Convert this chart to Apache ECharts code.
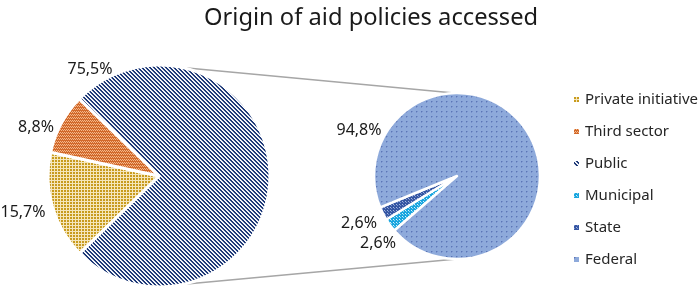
<!DOCTYPE html>
<html>
<head>
<meta charset="utf-8">
<script src="https://cdn.jsdelivr.net/npm/echarts@6/dist/echarts.min.js"></script>
<style>
html,body{margin:0;padding:0;background:#fff;}
#chart{width:699px;height:291px;}
</style>
</head>
<body>
<div id="chart"></div>
<script>
// dados
var leftNames = ['Public', 'Private initiative', 'Third sector'];
var leftValues = [75.5, 15.7, 8.8];
var rightNames = ['Municipal', 'State', 'Federal'];
var rightValues = [2.6, 2.6, 94.8];
var legendOrder = ['Private initiative', 'Third sector', 'Public', 'Municipal', 'State', 'Federal'];

// geometria
var leftC = [159, 176], leftR = 111;
var rightC = [457, 176], rightR = 83;
var leftLabelPos = [[90, 69], [23, 212], [36, 127]];
var rightLabelPos = [[378, 243], [359, 223], [359, 130]];

// padroes (hachuras tipo excel)
function tile(w, h, bg, fg, cells){
	var c = document.createElement('canvas');
	c.width = w; c.height = h;
	var ctx = c.getContext('2d');
	ctx.fillStyle = bg;
	ctx.fillRect(0, 0, w, h);
	for (var i = 0; i < cells.length; i++) {
		ctx.fillStyle = cells[i][2] || fg;
		ctx.fillRect(cells[i][0], cells[i][1], 1, 1);
	}
	return {image: c, repeat: 'repeat'};
}
var pats = {
	'Public': tile(4, 4, '#1f3a78', '#ffffff', [[0,0],[1,1],[2,2],[3,3],[1,0,'#dfe4ef'],[2,1,'#dfe4ef'],[3,2,'#dfe4ef'],[0,3,'#dfe4ef']]),
	'Private initiative': tile(3, 3, '#c89b1e', '#f5e6bb', [[0,0],[1,0],[2,0],[0,1],[0,2]]),
	'Third sector': tile(4, 3, '#d2692a', '#f3b88c', [[0,0],[1,1],[2,0],[3,1]]),
	'Federal': tile(5, 5, '#8eaadb', '#5a76b6', [[1,1],[2,1,'#7891cb'],[1,2,'#7891cb']]),
	'State': tile(3, 3, '#3657a3', '#a7b8e0', [[0,0],[1,1,'#7c93cc']]),
	'Municipal': tile(3, 3, '#1aa6df', '#d6f1fb', [[0,0],[1,1,'#8fd6f2']])
};

function fmt(p){ return p.value.toFixed(1).replace('.', ',') + '%'; }

function mkData(names, values){
	var arr = [];
	for (var i = 0; i < names.length; i++) {
		arr.push({name: names[i], value: values[i], itemStyle: {color: pats[names[i]]}});
	}
	return arr;
}

var labelStyle = {
	show: true, position: 'outside', formatter: fmt,
	fontFamily: 'Noto Sans', fontSize: 16, color: '#1a1a1a'
};

// linhas de ligacao entre as pizzas
function polar(c, r, deg){
	var a = deg * Math.PI / 180;
	return [c[0] + r * Math.cos(a), c[1] - r * Math.sin(a)];
}
var lt = polar(leftC, leftR, 78), lb = polar(leftC, leftR, -77);
var rt = polar(rightC, rightR, 92), rb = polar(rightC, rightR, -90);
var lineStyle = {stroke: '#a6a6a6', lineWidth: 1.5};

var chart = echarts.init(document.getElementById('chart'));
chart.setOption({
	backgroundColor: '#fff',
	animation: false,
	title: {
		text: 'Origin of aid policies accessed',
		left: 199, top: 1,
		textStyle: {fontFamily: 'Noto Sans', fontSize: 23.7, fontWeight: 'normal', color: '#1a1a1a'}
	},
	legend: {
		orient: 'vertical', left: 567, top: 87,
		data: legendOrder,
		icon: 'rect', itemWidth: 7, itemHeight: 7, itemGap: 17,
		textStyle: {fontFamily: 'Noto Sans', fontSize: 15, color: '#262626'}
	},
	graphic: [
		{type: 'line', shape: {x1: lt[0], y1: lt[1], x2: rt[0], y2: rt[1]}, style: lineStyle, z: 1},
		{type: 'line', shape: {x1: lb[0], y1: lb[1], x2: rb[0], y2: rb[1]}, style: lineStyle, z: 1}
	],
	series: [
		{
			type: 'pie', center: leftC, radius: leftR,
			startAngle: 136, clockwise: true, avoidLabelOverlap: false,
			itemStyle: {borderColor: '#fff', borderWidth: 3},
			label: labelStyle, labelLine: {show: false},
			labelLayout: function(p){
				var pos = leftLabelPos[p.dataIndex];
				return {x: pos[0], y: pos[1], align: 'center', verticalAlign: 'middle'};
			},
			emphasis: {disabled: true},
			data: mkData(leftNames, leftValues)
		},
		{
			type: 'pie', center: rightC, radius: rightR,
			startAngle: 221, clockwise: true, avoidLabelOverlap: false,
			itemStyle: {borderColor: '#fff', borderWidth: 2.5},
			label: labelStyle, labelLine: {show: false},
			labelLayout: function(p){
				var pos = rightLabelPos[p.dataIndex];
				return {x: pos[0], y: pos[1], align: 'center', verticalAlign: 'middle'};
			},
			emphasis: {disabled: true},
			data: mkData(rightNames, rightValues)
		}
	]
});
</script>
</body>
</html>
